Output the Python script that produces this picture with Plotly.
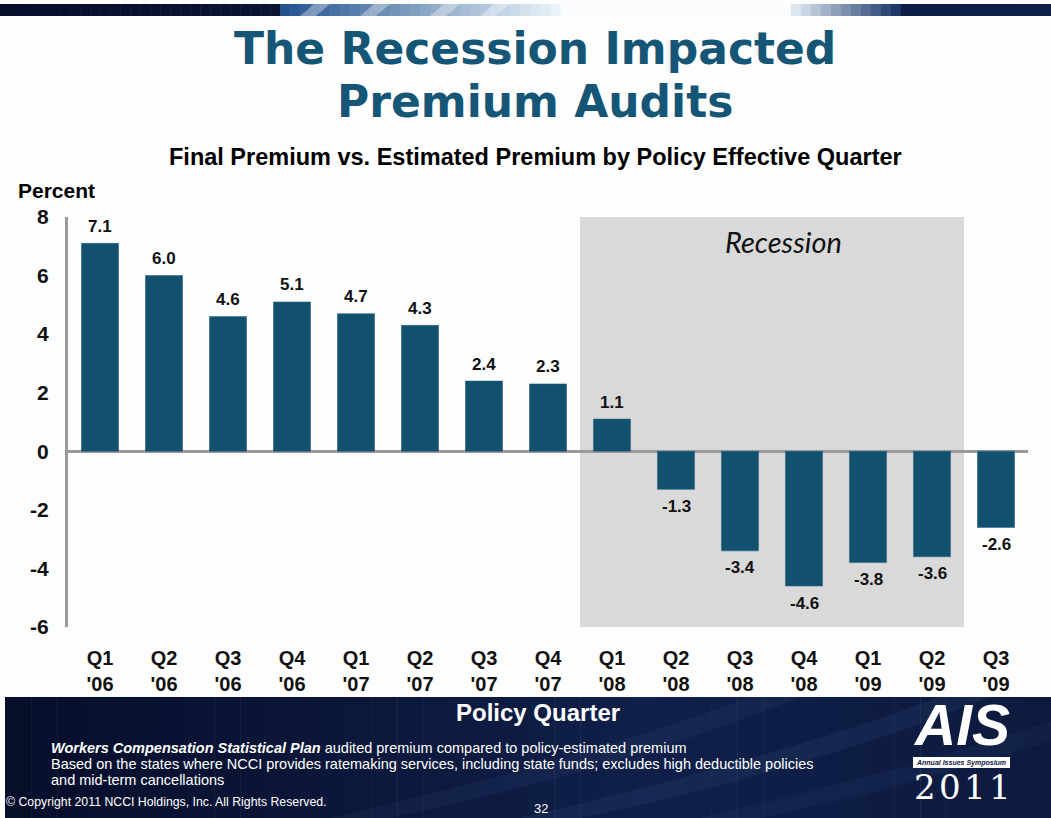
import plotly.graph_objects as go

# Data: final vs. estimated premium (%), by policy effective quarter
quarters = ["Q1<br>'06", "Q2<br>'06", "Q3<br>'06", "Q4<br>'06",
            "Q1<br>'07", "Q2<br>'07", "Q3<br>'07", "Q4<br>'07",
            "Q1<br>'08", "Q2<br>'08", "Q3<br>'08", "Q4<br>'08",
            "Q1<br>'09", "Q2<br>'09", "Q3<br>'09"]
pct_change = [7.1, 6.0, 4.6, 5.1, 4.7, 4.3, 2.4, 2.3, 1.1,
              -1.3, -3.4, -4.6, -3.8, -3.6, -2.6]
y_ticks = [-6, -4, -2, 0, 2, 4, 6, 8]
recession_start = "Q1<br>'08"
recession_end = "Q2<br>'09"

W, H = 1051, 818


def px(p):
    return p / W


def py(p):
    return 1 - p / H


def mix(c1, c2, t):
    t = max(0.0, min(1.0, t))
    return "rgb({},{},{})".format(*[round(a + (b - a) * t) for a, b in zip(c1, c2)])


BAR = "#12506f"
TITLE = "#155677"
AXIS = "#9a9a9a"
NAVY_L = (6, 14, 42)
NAVY_R = (16, 32, 74)
FONT = "Arial, Liberation Sans"

fig = go.Figure()
fig.add_trace(go.Bar(
    x=quarters, y=pct_change,
    marker=dict(color=BAR, line=dict(color="#2f6a88", width=0.6)),
    hoverinfo="skip",
))

shapes = []
i0 = quarters.index(recession_start) - 0.5
i1 = quarters.index(recession_end) + 0.5
shapes.append(dict(type="rect", xref="x", yref="y", x0=i0, x1=i1, y0=-6, y1=8,
                   fillcolor="#d9d9d9", line=dict(width=0), layer="below"))

# top decorative band
band_top, band_bot = 4, 16
n = 105
for k in range(n):
    x0 = k * W / n
    x1 = (k + 1) * W / n
    xc = (x0 + x1) / 2
    if xc < 280 or xc > 900:
        col = mix(NAVY_L, NAVY_R, xc / W)
    elif xc < 560:
        col = mix((30, 80, 140), (235, 245, 250), (xc - 280) / 280)
    elif xc < 790:
        col = "rgb(250,252,253)"
    else:
        col = mix((230, 240, 248), (20, 50, 100), (xc - 790) / 110)
    shapes.append(dict(type="rect", xref="paper", yref="paper",
                       x0=px(x0), x1=px(x1) + 0.0005, y0=py(band_bot), y1=py(band_top),
                       fillcolor=col, line=dict(width=0), layer="below"))
for sx in (300, 360, 430, 480):
    shapes.append(dict(type="path", xref="paper", yref="paper",
                       path="M {},{} L {},{} L {},{} L {},{} Z".format(
                           px(sx), py(band_bot), px(sx + 14), py(band_top),
                           px(sx + 30), py(band_top), px(sx + 16), py(band_bot)),
                       fillcolor="rgba(255,255,255,0.35)", line=dict(width=0), layer="below"))

# bottom navy band
foot_top = 697
n = 40
for k in range(n):
    x0 = 5 + k * (W - 5) / n
    x1 = 5 + (k + 1) * (W - 5) / n
    t = k / (n - 1)
    col = mix(NAVY_L, NAVY_R, t * 1.6 if t < 0.6 else 1 - (t - 0.6) * 0.8)
    shapes.append(dict(type="rect", xref="paper", yref="paper",
                       x0=px(x0), x1=px(x1) + 0.0005, y0=0, y1=py(foot_top),
                       fillcolor=col, line=dict(width=0), layer="below"))
for sx, a in ((330, 0.06), (520, 0.08), (700, 0.05)):
    shapes.append(dict(type="path", xref="paper", yref="paper",
                       path="M {},{} Q {},{} {},{} L {},{} Q {},{} {},{} Z".format(
                           px(sx), py(H), px(sx + 250), py(760), px(sx + 420), py(foot_top),
                           px(sx + 470), py(foot_top), px(sx + 290), py(770), px(sx + 60), py(H)),
                       fillcolor="rgba(120,150,210,{})".format(a), line=dict(width=0), layer="below"))

# AIS logo label strip
shapes.append(dict(type="rect", xref="paper", yref="paper",
                   x0=px(913), x1=px(1010), y0=py(768), y1=py(757),
                   fillcolor="white", line=dict(width=0)))

ann = []

# value labels: above positive bars, below negative ones
for q, v in zip(quarters, pct_change):
    ann.append(dict(x=q, y=v, xref="x", yref="y", text="<b>{:.1f}</b>".format(v),
                    showarrow=False, yanchor="middle", yshift=17 if v >= 0 else -17,
                    font=dict(family=FONT, size=17, color="#111")))


def text(x, y, s, size, color="#000", family=FONT, xanchor="center", yanchor="middle", **kw):
    ann.append(dict(x=px(x), y=py(y), xref="paper", yref="paper", text=s, showarrow=False,
                    xanchor=xanchor, yanchor=yanchor, borderpad=0,
                    font=dict(family=family, size=size, color=color), **kw))


text(535, 48, "<b>The Recession Impacted</b>", 44, TITLE, "DejaVu Sans")
text(535, 101, "<b>Premium Audits</b>", 44, TITLE, "DejaVu Sans")
text(535, 157, "<b>Final Premium vs. Estimated Premium by Policy Effective Quarter</b>", 23.5)
text(17, 190, "<b>Percent</b>", 21, xanchor="left")
ann.append(dict(x=10.68, y=7.15, xref="x", yref="y", text="<i>Recession</i>",
                showarrow=False, font=dict(family="Lato, Open Sans", size=29, color="#111")))
text(538, 712, "<b>Policy Quarter</b>", 24, "white")
text(50, 748, "<b><i>Workers Compensation Statistical Plan</i></b> audited premium compared to policy-estimated premium",
     14.5, "white", xanchor="left")
text(50, 764, "Based on the states where NCCI provides ratemaking services, including state funds; excludes high deductible policies",
     14.5, "white", xanchor="left")
text(50, 780, "and mid-term cancellations", 14.5, "white", xanchor="left")
text(5, 802, "© Copyright 2011 NCCI Holdings, Inc. All Rights Reserved.", 12.3, "white",
     "Liberation Sans", xanchor="left")
text(541, 808, "32", 13, "white", "Liberation Sans")
text(961, 758, "<b><i>AIS</i></b>", 57, "white", "Liberation Sans", yanchor="bottom")
text(961, 762.5, "<b><i>Annual Issues Symposium</i></b>", 7, "#0b1740", "Liberation Sans")
text(962, 766, "2\u200a0\u200a1\u200a1", 34, "white", "DejaVu Serif", yanchor="top")

fig.update_layout(
    width=W, height=H, autosize=False,
    margin=dict(l=0, r=0, t=0, b=0),
    paper_bgcolor="#fdfdfd", plot_bgcolor="rgba(0,0,0,0)",
    showlegend=False, bargap=0.42,
    shapes=shapes, annotations=ann,
    xaxis=dict(domain=[px(68), px(1028)], range=[-0.5, len(quarters) - 0.5],
               automargin=False, showgrid=False, showline=False, ticks="", zeroline=False,
               tickfont=dict(family=FONT, size=20, color="#111"),
               ticklabelstandoff=17, tickprefix="<b>", ticksuffix="</b>"),
    yaxis=dict(domain=[py(627), py(217)], range=[-6, 8], tickvals=y_ticks,
               ticktext=["<b>{}</b>".format(v) for v in y_ticks],
               automargin=False, showgrid=False, showline=True, linecolor=AXIS, linewidth=3,
               zeroline=True, zerolinecolor=AXIS, zerolinewidth=3, ticks="",
               tickfont=dict(family=FONT, size=21, color="#111"),
               ticklabelstandoff=12),
)

fig.write_html("out.html")
